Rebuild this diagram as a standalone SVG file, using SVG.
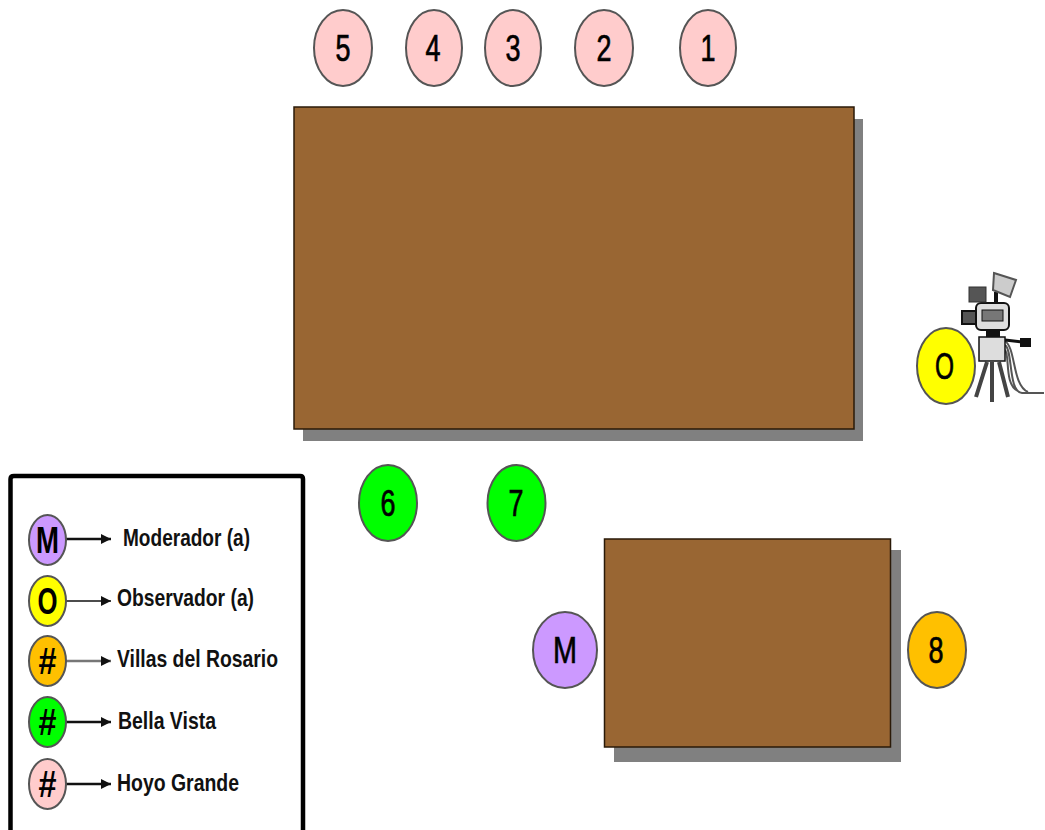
<svg xmlns="http://www.w3.org/2000/svg" width="1045" height="830" viewBox="0 0 1045 830">
<defs>
<marker id="arr" markerUnits="userSpaceOnUse" markerWidth="10" markerHeight="10" refX="10" refY="5" orient="auto"><path d="M0 0L10 5L0 10Z" fill="#111"/></marker>
</defs>
<style>
text{font-family:"Liberation Sans",Arial,sans-serif;fill:#000}
.n{stroke:#555;stroke-width:2}
.l{font-size:37px;text-anchor:middle;stroke:#000;stroke-width:.7}
.k{font-size:37px;text-anchor:middle;font-weight:700}
.t{font-size:24px;font-weight:700;fill:#111}
.pk{fill:#ffcccc}.gr{fill:#00ff00}.ye{fill:#ffff00}.or{fill:#ffc000}.pu{fill:#cc99ff}
.tb{fill:#996633;stroke:#2a1a08;stroke-width:1.5}
.sh{fill:#808080}
.c{stroke:#111;stroke-width:2.5;fill:none;marker-end:url(#arr)}
</style>
<rect width="1045" height="830" fill="#fff"/>
<g id="table-main"><rect class="sh" x="303" y="119" width="560" height="322"/><rect class="tb" x="294" y="107" width="560" height="322"/></g>
<g id="table-small"><rect class="sh" x="614" y="550" width="287" height="212"/><rect class="tb" x="604.500" y="539" width="286" height="208"/></g>
<g id="p5"><ellipse class="n pk" cx="343" cy="48" rx="29" ry="38"/><text class="l" x="343" y="61" textLength="15" lengthAdjust="spacingAndGlyphs">5</text></g>
<g id="p4"><ellipse class="n pk" cx="434" cy="48" rx="28" ry="38"/><text class="l" x="433" y="61" textLength="15" lengthAdjust="spacingAndGlyphs">4</text></g>
<g id="p3"><ellipse class="n pk" cx="513" cy="48" rx="28" ry="38"/><text class="l" x="513" y="61" textLength="15" lengthAdjust="spacingAndGlyphs">3</text></g>
<g id="p2"><ellipse class="n pk" cx="604" cy="48" rx="29" ry="38"/><text class="l" x="604" y="61" textLength="15" lengthAdjust="spacingAndGlyphs">2</text></g>
<g id="p1"><ellipse class="n pk" cx="708" cy="48" rx="28" ry="38"/><text class="l" x="708" y="61" textLength="15" lengthAdjust="spacingAndGlyphs">1</text></g>
<g id="p6"><ellipse class="n gr" cx="388" cy="503" rx="29" ry="38"/><text class="l" x="388" y="516" textLength="15" lengthAdjust="spacingAndGlyphs">6</text></g>
<g id="p7"><ellipse class="n gr" cx="516.500" cy="503" rx="29" ry="38"/><text class="l" x="516" y="516" textLength="15" lengthAdjust="spacingAndGlyphs">7</text></g>
<g id="p8"><ellipse class="n or" cx="937" cy="650" rx="29" ry="38"/><text class="l" x="936" y="663" textLength="15" lengthAdjust="spacingAndGlyphs">8</text></g>
<g id="moderador"><ellipse class="n pu" cx="565" cy="650" rx="32" ry="38"/><text class="l" x="565" y="663" textLength="24" lengthAdjust="spacingAndGlyphs">M</text></g>
<g id="observador"><ellipse class="n ye" cx="946" cy="366" rx="29" ry="38"/><text class="l" x="944.500" y="379" textLength="19" lengthAdjust="spacingAndGlyphs">O</text></g>
<g id="camera">
<path d="M987 362L976 397M992 362V402M999 362L1008 397" stroke="#444" stroke-width="4" fill="none"/>
<path d="M1005 345C1013 350 1008 392 1022 393H1044M1005 350C1010 355 1004 385 1018 391M1005 341C1016 348 1012 385 1028 392" stroke="#555" stroke-width="2" fill="none"/>
<path d="M1005 340L1022 342" stroke="#111" stroke-width="3"/><rect x="1020" y="338" width="11" height="9" fill="#111"/>
<rect x="979" y="337" width="26" height="24" fill="#ddd" stroke="#111" stroke-width="1.500"/>
<rect x="986" y="329" width="14" height="8" fill="#111"/>
<rect x="976" y="303" width="33" height="27" rx="5" fill="#ddd" stroke="#111" stroke-width="2"/>
<rect x="982" y="310" width="21" height="11" fill="#777" stroke="#111"/>
<rect x="962" y="311" width="14" height="13" fill="#555" stroke="#111" stroke-width="2"/>
<rect x="969" y="287" width="17" height="15" fill="#555" stroke="#333"/>
<path d="M996 303V292" stroke="#111" stroke-width="4"/>
<path d="M994 273L1016 280L1010 297L993 290Z" fill="#ccc" stroke="#555" stroke-width="2"/>
</g>
<g id="legend-box"><path d="M10.500 830V479Q10.500 476 14 476H300Q303 476 303 479V830" fill="none" stroke="#000" stroke-width="4.500"/></g>
<g id="connectors">
<path class="c" d="M66 539H111"/><path class="c" d="M66 601H111" style="stroke-width:1.500"/><path class="c" d="M66 661H111" style="stroke:#777"/><path class="c" d="M66 722H111"/><path class="c" d="M66 784H111"/>
</g>
<g id="legend-m"><ellipse class="n pu" cx="47.500" cy="540" rx="18.500" ry="25"/><text class="k" x="47.500" y="553" textLength="23" lengthAdjust="spacingAndGlyphs">M</text></g>
<g id="legend-o"><ellipse class="n ye" cx="47.500" cy="601" rx="18.500" ry="25"/><text class="k" x="47.500" y="614" textLength="20" lengthAdjust="spacingAndGlyphs">O</text></g>
<g id="legend-or"><ellipse class="n or" cx="47.500" cy="661" rx="18.500" ry="25"/><text class="k" x="47.500" y="674" textLength="18" lengthAdjust="spacingAndGlyphs">#</text></g>
<g id="legend-gr"><ellipse class="n gr" cx="47.500" cy="722" rx="18.500" ry="25"/><text class="k" x="47.500" y="735" textLength="18" lengthAdjust="spacingAndGlyphs">#</text></g>
<g id="legend-pk"><ellipse class="n pk" cx="47.500" cy="784" rx="18.500" ry="25"/><text class="k" x="47.500" y="797" textLength="18" lengthAdjust="spacingAndGlyphs">#</text></g>
<text class="t" x="123" y="546" textLength="127" lengthAdjust="spacingAndGlyphs">Moderador (a)</text>
<text class="t" x="117" y="606" textLength="137" lengthAdjust="spacingAndGlyphs">Observador (a)</text>
<text class="t" x="117" y="667" textLength="161" lengthAdjust="spacingAndGlyphs">Villas del Rosario</text>
<text class="t" x="118" y="729" textLength="98" lengthAdjust="spacingAndGlyphs">Bella Vista</text>
<text class="t" x="117" y="791" textLength="122" lengthAdjust="spacingAndGlyphs">Hoyo Grande</text>
</svg>
